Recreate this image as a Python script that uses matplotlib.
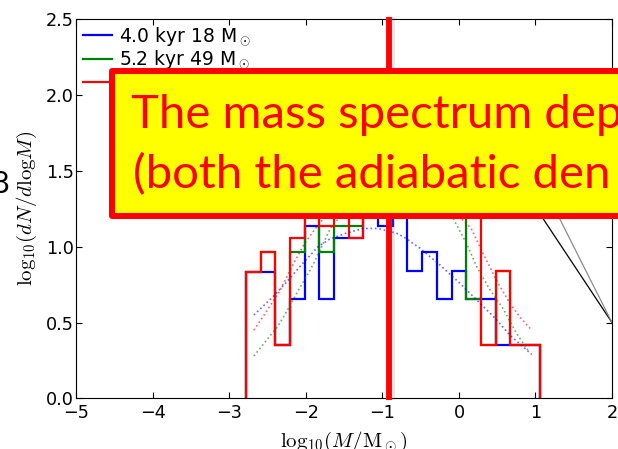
import matplotlib
matplotlib.use("Agg")
import matplotlib.pyplot as plt
import matplotlib.patheffects as pe
from matplotlib.patches import Rectangle
from matplotlib.transforms import blended_transform_factory

# shared bin edges, log10(M/Msun)
edges = [-2.784, -2.592, -2.400, -2.208, -2.016, -1.824, -1.632, -1.441, -1.249, -1.057,
         -0.865, -0.673, -0.481, -0.289, -0.097, 0.095, 0.287, 0.479, 0.671, 0.863, 1.055]

# log10(dN/dlogM) per bin
hist_blue = [0.836, 0.836, 0.355, 0.658, 1.138, 0.658, 1.056, 1.056, 1.26, 1.138,
             1.30, 0.837, 0.962, 0.658, 0.837, 0.658, 0.658, 0.355, 0.355, 0.355]
hist_green = [0.836, 0.962, 0.355, 0.962, 1.30, 0.962, 1.138, 1.138, 1.35, 1.30,
              1.28, 1.40, 1.33, 1.25, 1.28, 0.658, 0.355, 0.837, 0.355, 0.355]
hist_red = [0.836, 0.962, 0.355, 1.056, 1.30, 1.138, 1.36, 1.056, 1.48, 1.52,
            1.30, 1.45, 1.40, 1.26, 1.30, 1.23, 0.355, 0.837, 0.355, 0.355]

labels = ["4.0 kyr 18 M$_\\odot$", "5.2 kyr 49 M$_\\odot$", "6.5 kyr 78 M$_\\odot$"]

# lognormal fits
fit_blue_x = [-2.68, -2.43, -2.23, -2.06, -1.84, -1.69, -1.47, -1.25, -1.06, -0.82,
              -0.71, -0.51, -0.25, 0.01, 0.23, 0.49, 0.66, 0.95]
fit_blue_y = [0.55, 0.67, 0.78, 0.88, 1.00, 1.05, 1.09, 1.12, 1.12, 1.09,
              1.06, 0.99, 0.88, 0.76, 0.65, 0.52, 0.42, 0.29]
fit_green_x = [-2.68, -2.36, -2.21, -2.08, -1.95, -1.82, -1.69, -1.645, -1.4, -0.9,
               -0.4, -0.15, -0.07, 0.10, 0.23, 0.40, 0.58, 0.75, 0.90]
fit_green_y = [0.28, 0.48, 0.61, 0.73, 0.84, 0.97, 1.11, 1.145, 1.28, 1.36,
               1.30, 1.22, 1.18, 1.02, 0.87, 0.72, 0.59, 0.43, 0.32]
fit_red_x = [-2.68, -2.52, -2.34, -2.17, -2.02, -1.86, -1.6, -1.2, -0.85, -0.5,
             -0.2, 0.16, 0.31, 0.49, 0.66, 0.79, 0.95]
fit_red_y = [0.45, 0.57, 0.71, 0.88, 1.02, 1.13, 1.29, 1.41, 1.44, 1.40,
             1.30, 1.12, 0.96, 0.78, 0.63, 0.54, 0.45]

# reference slopes
slope_a_x = [1.0, 2.0]
slope_a_y = [1.26, 0.5]
slope_b_x = [1.0, 2.0]
slope_b_y = [1.5, 0.5]

mark_x = -0.91

plt.rcParams["mathtext.fontset"] = "cm"

fig = plt.figure(figsize=(6.18, 4.49), dpi=100)
ax = fig.add_axes([0.1235, 0.1125, 0.9903 - 0.1235, 0.9577 - 0.1125])

for vals, c, lab in zip([hist_blue, hist_green, hist_red], ["b", "g", "r"], labels):
    ax.stairs(vals, edges, baseline=0, color=c, lw=1.6, label=lab)

for fx, fy, c in [(fit_blue_x, fit_blue_y, "b"), (fit_green_x, fit_green_y, "g"),
                  (fit_red_x, fit_red_y, "r")]:
    ax.plot(fx, fy, ":", color=c, lw=1.2, alpha=0.6)

ax.plot(slope_a_x, slope_a_y, color="k", lw=0.9)
ax.plot(slope_b_x, slope_b_y, color="0.55", lw=0.9)

ax.set_xlim(-5, 2)
ax.set_ylim(0, 2.5)
ax.set_xticks(range(-5, 3))
ax.set_yticks([0.0, 0.5, 1.0, 1.5, 2.0, 2.5])
ax.tick_params(direction="in", top=True, right=True, length=4, labelsize=12.7)
ax.tick_params(axis="y", pad=2)
ax.tick_params(axis="x", pad=4)
ax.set_xlabel(r"$\mathrm{log}_{10}(M/\mathrm{M}_\odot)$", fontsize=15, labelpad=5)
ax.set_ylabel(r"$\mathrm{log}_{10}(dN/d\mathrm{log}M)$", fontsize=15, labelpad=5)

ax.legend(loc="upper left", frameon=False, fontsize=13.5, handlelength=1.55,
          handletextpad=0.36, labelspacing=0.05, borderaxespad=0.1, borderpad=0.25)

# highlight line
trans = blended_transform_factory(ax.transData, ax.transAxes)
ax.plot([mark_x, mark_x], [-0.004, 1.006], transform=trans, clip_on=False,
        color="#ff0000", lw=4.2, solid_capstyle="butt", zorder=10,
        path_effects=[pe.SimpleLineShadow(offset=(2, 0), shadow_color="0.5", alpha=0.2),
                      pe.Normal()])

# callout box
box = Rectangle((112 / 618, 1 - 216 / 449), 1.2, (216 - 71) / 449,
                transform=fig.transFigure, facecolor="#ffff00", edgecolor="#ff0000",
                lw=4.3, joinstyle="round", zorder=20)
fig.add_artist(box)
fig.text(131 / 618, 1 - 128 / 449, "The mass spectrum dep", color="#ff0000",
         family="Lato", fontsize=34, va="baseline", ha="left", zorder=21)
fig.text(133 / 618, 1 - 188 / 449, "(both the adiabatic den", color="#ff0000",
         family="Lato", fontsize=34, va="baseline", ha="left", zorder=21)
fig.text(9 / 618, 1 - 184 / 449, "8", family="Lato", fontsize=22, ha="right",
         va="center", zorder=21)

fig.savefig("out.png", dpi=100)
